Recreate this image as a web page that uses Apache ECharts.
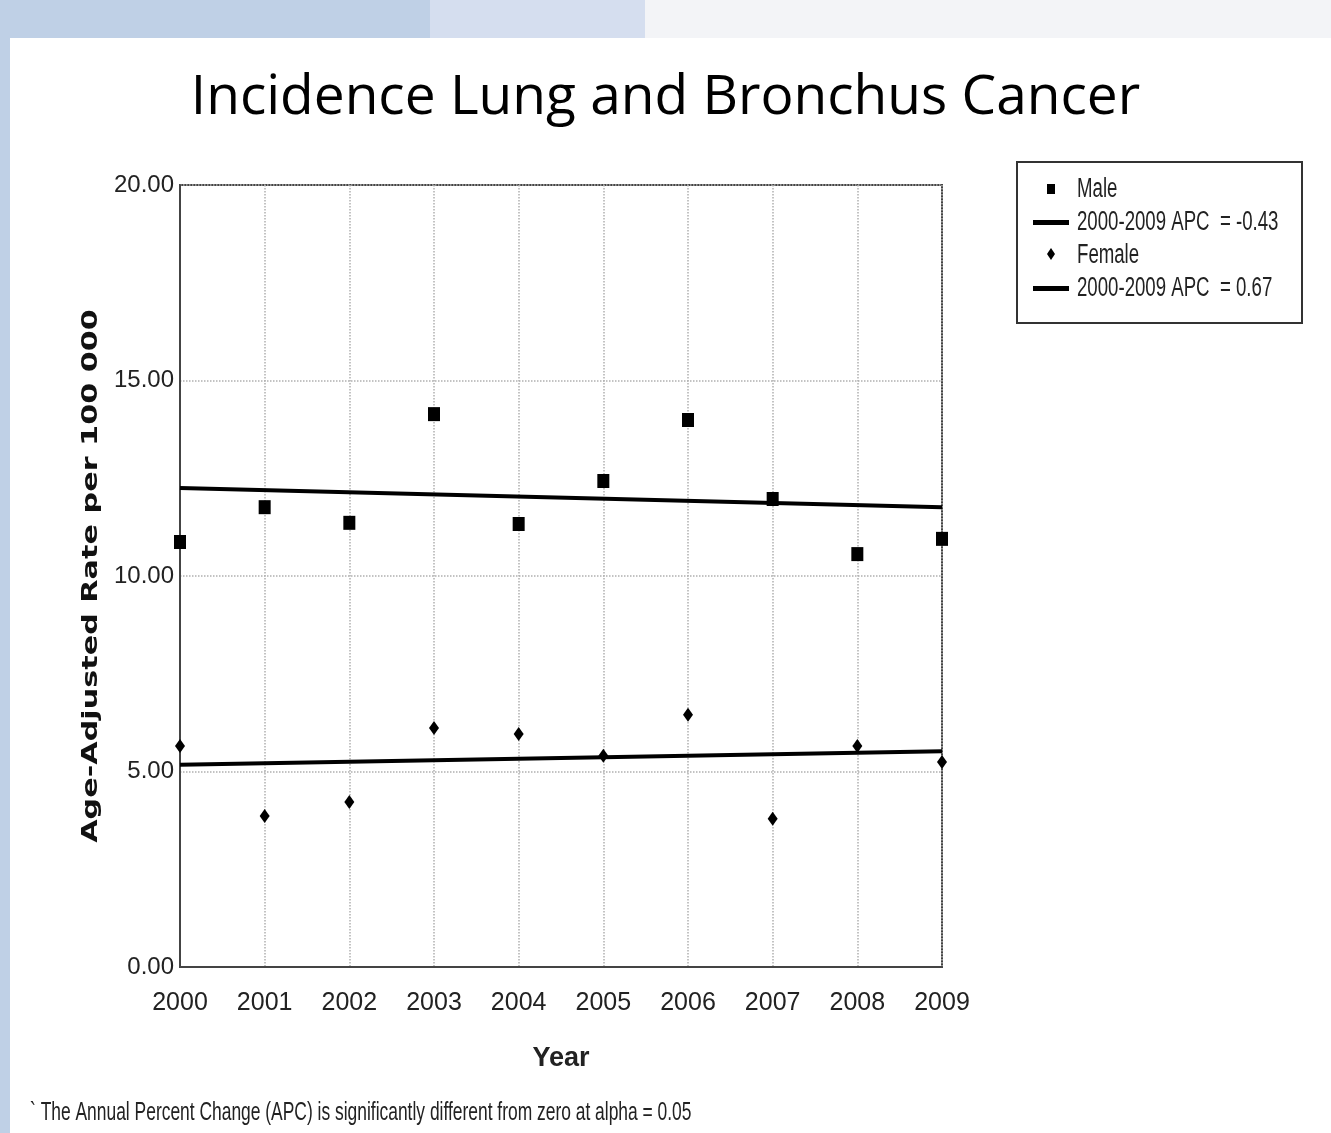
<!DOCTYPE html>
<html><head><meta charset="utf-8">
<script src="https://cdn.jsdelivr.net/npm/echarts@6/dist/echarts.min.js"></script>
<style>html,body{margin:0;padding:0;background:#fff}#c{width:1331px;height:1133px}</style>
</head><body><div id="c"></div>
<script>
const years = ['2000','2001','2002','2003','2004','2005','2006','2007','2008','2009'];
const maleRates = [10.87, 11.76, 11.36, 14.14, 11.33, 12.43, 13.99, 11.97, 10.56, 10.95];
const femaleRates = [5.65, 3.86, 4.22, 6.11, 5.96, 5.40, 6.45, 3.79, 5.65, 5.24];
const maleTrend = [['2000', 12.25], ['2009', 11.76]];
const femaleTrend = [['2000', 5.17], ['2009', 5.52]];
const yTicks = [0, 5, 10, 15, 20];
const legendLabels = ['Male', '2000-2009 APC  = -0.43', 'Female', '2000-2009 APC  = 0.67'];

const narrow = "'Liberation Sans Narrow','Liberation Sans',sans-serif";
const chart = echarts.init(document.getElementById('c'), null, {renderer: 'canvas'});

const legendGraphics = [
  {type:'rect', x: 1017, y: 162, shape:{width:285, height:161}, style:{fill:'#fff', stroke:'#333', lineWidth:2}},
  {type:'rect', x: 1047, y: 184, shape:{width:8, height:10}, style:{fill:'#000'}},
  {type:'rect', x: 1033, y: 220, shape:{width:36, height:5}, style:{fill:'#000'}},
  {type:'polygon', shape:{points:[[1051,248],[1055,254],[1051,260],[1047,254]]}, style:{fill:'#000'}},
  {type:'rect', x: 1033, y: 286, shape:{width:36, height:5}, style:{fill:'#000'}}
];
legendLabels.forEach((t, i) => {
  legendGraphics.push({type:'text', x: 1077, y: 190 + i*33, scaleX: 0.69,
    style:{text:t, font:'27px ' + narrow, fill:'#222', verticalAlign:'middle', align:'left'}});
});

chart.setOption({
  backgroundColor: '#fff',
  animation: false,
  title: {
    text: 'Incidence Lung and Bronchus Cancer',
    left: 'center', top: 66,
    textStyle: {fontFamily: "'Open Sans','Noto Sans',sans-serif", fontWeight: 'normal', fontSize: 55, color: '#000'}
  },
  graphic: [
    {type:'rect', x:0, y:0, shape:{width:1331, height:38}, style:{fill:'#f3f4f7'}, z:-10},
    {type:'rect', x:0, y:0, shape:{width:430, height:38}, style:{fill:'#bfd0e6'}, z:-9},
    {type:'rect', x:430, y:0, shape:{width:215, height:38}, style:{fill:'#d5deef'}, z:-9},
    {type:'rect', x:0, y:0, shape:{width:10, height:1133}, style:{fill:'#bfd0e6'}, z:-9},
    {type:'text', x: 30, y: 1113, scaleX: 0.67,
      style:{text:'` The Annual Percent Change (APC) is significantly different from zero at alpha = 0.05', font:'26px ' + narrow, fill:'#222', verticalAlign:'middle'}},
    {type:'text', x: 92, y: 576, rotation: Math.PI/2, scaleX: 1.44,
      style:{text:'Age-Adjusted Rate per 100 000', font:'bold 21px "DejaVu Sans",sans-serif', fill:'#111', align:'center', verticalAlign:'middle'}},
    ...legendGraphics
  ],
  grid: {left: 180, right: 389, top: 185, bottom: 166, show: true, borderColor: '#444', borderWidth: 2, backgroundColor: 'transparent'},
  xAxis: {
    type: 'category', data: years, boundaryGap: false,
    name: 'Year', nameLocation: 'middle', nameGap: 78,
    nameTextStyle: {fontFamily: "'Liberation Sans','Arial',sans-serif", fontWeight: 'bold', fontSize: 27, color: '#222'},
    axisLine: {lineStyle: {color: '#444', width: 2}},
    axisTick: {show: false},
    axisLabel: {fontFamily: narrow, fontSize: 25, color: '#222', margin: 24},
    splitLine: {show: true, lineStyle: {color: '#b0b0b0', type: 'dotted', width: 1.5}}
  },
  yAxis: {
    type: 'value', min: 0, max: 20, interval: 5,
    axisLine: {show: true, lineStyle: {color: '#444', width: 2}},
    axisTick: {show: false},
    axisLabel: {fontFamily: narrow, fontSize: 24, color: '#222', margin: 6,
      formatter: v => yTicks.includes(v) ? v.toFixed(2) : ''},
    splitLine: {show: true, lineStyle: {color: '#b0b0b0', type: 'dotted', width: 1.5}}
  },
  legend: {show: false},
  series: [
    {name: 'Male', type: 'scatter', data: maleRates, symbol: 'rect', symbolSize: [12, 14], itemStyle: {color: '#000', opacity: 1}, z: 5},
    {name: 'Male 2000-2009 APC = -0.43', type: 'line', data: maleTrend, symbol: 'none', lineStyle: {color: '#000', width: 4}, z: 4},
    {name: 'Female', type: 'scatter', data: femaleRates, symbol: 'diamond', symbolSize: [10, 14], itemStyle: {color: '#000', opacity: 1}, z: 5},
    {name: 'Female 2000-2009 APC = 0.67', type: 'line', data: femaleTrend, symbol: 'none', lineStyle: {color: '#000', width: 4}, z: 4}
  ]
});
</script></body></html>
